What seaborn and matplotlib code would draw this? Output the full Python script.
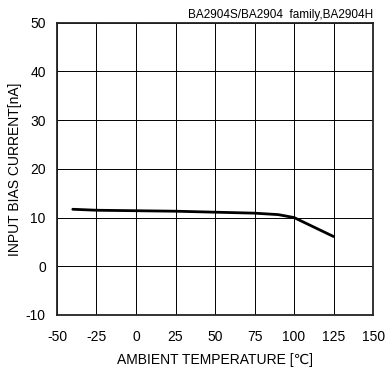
import pandas as pd
import seaborn as sns
import matplotlib.pyplot as plt

temperature = [-40, -25, 0, 25, 50, 75, 90, 100, 125]
bias_current = [11.7, 11.5, 11.4, 11.3, 11.1, 10.9, 10.6, 10.0, 6.1]
x_ticks = [-50, -25, 0, 25, 50, 75, 100, 125, 150]
y_ticks = [-10, 0, 10, 20, 30, 40, 50]

df = pd.DataFrame({"Temp": temperature, "Ib": bias_current})

sns.set_theme(style="ticks")
plt.rcParams["font.family"] = ["Liberation Sans", "DejaVu Sans"]
plt.rcParams["axes.unicode_minus"] = False

fig = plt.figure(figsize=(3.85, 3.74), dpi=100)
ax = fig.add_axes([0.148, 0.158, 0.821, 0.781])

sns.lineplot(data=df, x="Temp", y="Ib", ax=ax, color="black", linewidth=2)

ax.set_xlim(-50, 150)
ax.set_ylim(-10, 50)
ax.set_xticks(x_ticks)
ax.set_yticks(y_ticks)
ax.grid(True, color="black", linewidth=0.7)
ax.tick_params(axis="x", direction="in", labelsize=10, colors="black", length=0, pad=11)
ax.tick_params(axis="y", direction="in", labelsize=10, colors="black", length=0, pad=8)
for s in ax.spines.values():
    s.set_color("#222222")
    s.set_linewidth(1.3)

ax.set_xlabel("AMBIENT TEMPERATURE [℃]", fontsize=10, color="black", labelpad=6)
ax.set_ylabel("INPUT BIAS CURRENT[nA]", fontsize=10, color="black", labelpad=3)
ax.text(1.0, 1.005, "BA2904S/BA2904  family,BA2904H", transform=ax.transAxes,
        ha="right", va="bottom", fontsize=8.5, color="black")

fig.savefig("out.png", dpi=100)
